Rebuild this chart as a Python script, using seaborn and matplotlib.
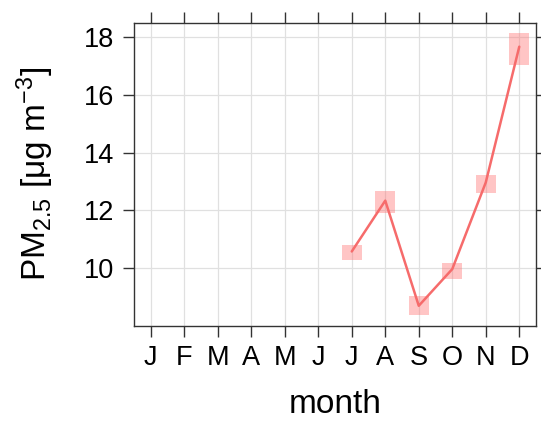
import matplotlib
matplotlib.use("Agg")
import matplotlib.pyplot as plt
import seaborn as sns
import pandas as pd

# Monthly mean PM2.5 with confidence interval bounds
months = ["J", "F", "M", "A", "M", "J", "J", "A", "S", "O", "N", "D"]
month_num = [7, 8, 9, 10, 11, 12]
pm25_mean = [10.58, 12.34, 8.70, 9.97, 12.97, 17.67]
pm25_lower = [10.27, 11.90, 8.38, 9.63, 12.62, 17.02]
pm25_upper = [10.81, 12.67, 9.03, 10.18, 13.24, 18.14]

df = pd.DataFrame({
    "month": month_num,
    "mean": pm25_mean,
    "lower": pm25_lower,
    "upper": pm25_upper,
})

sns.set_theme(style="white")
plt.rcParams["font.family"] = ["Liberation Sans", "DejaVu Sans"]
plt.rcParams["mathtext.fontset"] = "custom"
plt.rcParams["mathtext.rm"] = "Liberation Sans"
plt.rcParams["mathtext.it"] = "Liberation Sans:italic"
plt.rcParams["mathtext.default"] = "regular"

line_col = "#F66B6B"
band_col = "#FF7070"
frame_col = "#333333"

fig = plt.figure(figsize=(5.41, 4.22), dpi=100)
ax = fig.add_axes([0.2477, 0.2275, 0.7431, 0.7187])

# confidence interval boxes
ax.bar(df["month"], df["upper"] - df["lower"], bottom=df["lower"], width=0.6,
       color=band_col, alpha=0.4, linewidth=0, zorder=2)
sns.lineplot(data=df, x="month", y="mean", ax=ax, color=line_col,
             linewidth=1.8, zorder=3)

ax.set_xlim(0.5, 12.5)
ax.set_ylim(8.0, 18.5)
ax.set_xticks(range(1, 13))
ax.set_xticklabels(months)
ax.set_yticks([10, 12, 14, 16, 18])

ax.grid(True, color="#E0E0E0", linewidth=0.9, zorder=0)
ax.set_axisbelow(True)

for sp in ax.spines.values():
    sp.set_color(frame_col)
    sp.set_linewidth(1.0)

ax.tick_params(axis="both", which="both", direction="out", length=8, width=1.0,
               color=frame_col, labelsize=19.5, labelcolor="black", pad=6,
               top=True, right=True, bottom=True, left=True,
               labeltop=False, labelright=False)

ax.set_xlabel("month", fontsize=24, labelpad=13, color="black")
ax.set_ylabel("PM$_{2.5}$ [μg m$^{-3}$]", fontsize=24, labelpad=20, color="black")

fig.savefig("out.png", dpi=100)
